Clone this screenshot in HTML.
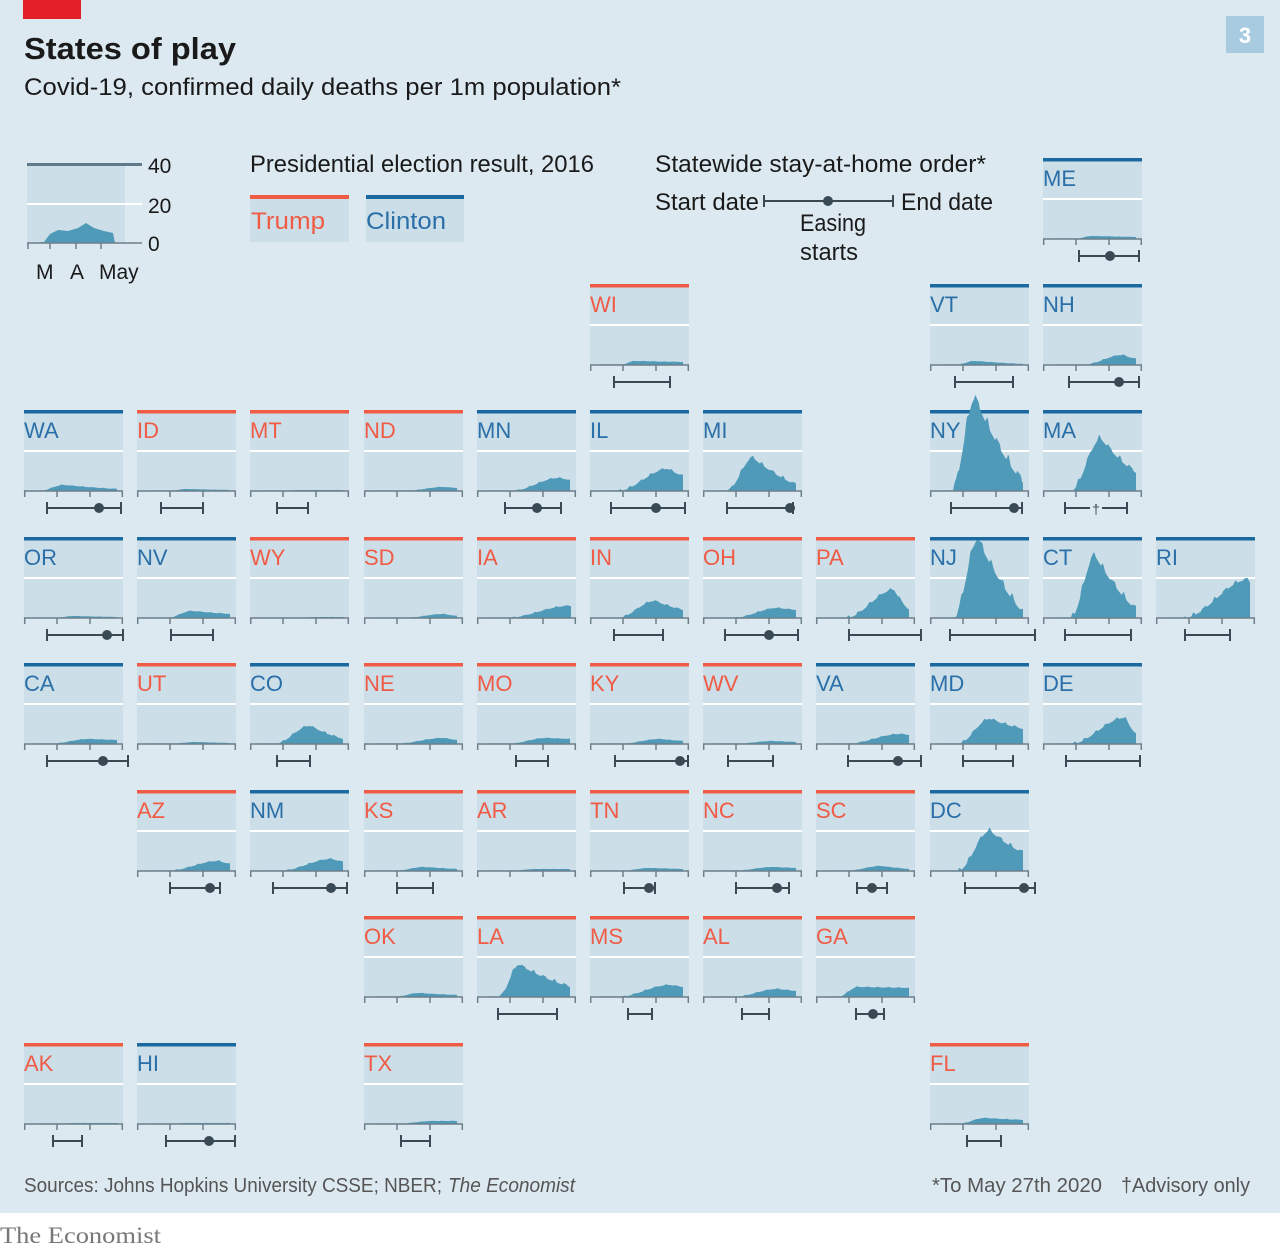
<!DOCTYPE html>
<html><head><meta charset="utf-8">
<style>
html,body{margin:0;padding:0;background:#fff;}
svg{display:block;font-family:"Liberation Sans",sans-serif;}
</style></head>
<body>
<svg id="s" width="1280" height="1250" viewBox="0 0 1280 1250" xmlns="http://www.w3.org/2000/svg">
<rect x="0" y="0" width="1280" height="1213" fill="#dde9f1"/>
<rect x="23" y="0" width="58" height="19" fill="#e3202a"/>
<text x="24" y="59" font-size="31" font-weight="bold" fill="#1a1a1a" textLength="212" lengthAdjust="spacingAndGlyphs">States of play</text>
<text x="24" y="95" font-size="24" fill="#1a1a1a" textLength="597" lengthAdjust="spacingAndGlyphs">Covid-19, confirmed daily deaths per 1m population*</text>
<rect x="1226" y="16" width="38" height="37" fill="#a9cbe0"/>
<text x="1245" y="43" font-size="22" font-weight="bold" fill="#fff" text-anchor="middle">3</text>

<rect x="27" y="165" width="98" height="78" fill="#ccdfe9"/>
<line x1="27" y1="164.5" x2="142" y2="164.5" stroke="#5f7a88" stroke-width="3"/>
<line x1="27" y1="204" x2="142" y2="204" stroke="#fff" stroke-width="2"/>
<path d="M27 243 L44 242 L50 234 L58 230 L68 231 L78 228 L86 223 L94 228 L104 231 L113 233 L115 243 Z" fill="#4f9ab8"/>
<line x1="27" y1="243" x2="142" y2="243" stroke="#6d7f8a" stroke-width="1.5"/>
<g stroke="#6d7f8a" stroke-width="1.5"><line x1="28" y1="243" x2="28" y2="249"/><line x1="50" y1="243" x2="50" y2="249"/><line x1="76" y1="243" x2="76" y2="249"/><line x1="101" y1="243" x2="101" y2="249"/></g>
<g font-size="21" fill="#1a1a1a"><text x="148" y="173">40</text><text x="148" y="213">20</text><text x="148" y="251">0</text>
<text x="36" y="279">M</text><text x="70" y="279">A</text><text x="99" y="279">May</text></g>

<text x="250" y="172" font-size="24" fill="#1a1a1a" textLength="344" lengthAdjust="spacingAndGlyphs">Presidential election result, 2016</text>
<rect x="250" y="196" width="99" height="46" fill="#ccdfe9"/><rect x="250" y="195" width="99" height="4" fill="#f05b45"/>
<text x="251" y="229" font-size="24" fill="#f05b45" textLength="74" lengthAdjust="spacingAndGlyphs">Trump</text>
<rect x="366" y="196" width="98" height="46" fill="#ccdfe9"/><rect x="366" y="195" width="98" height="4" fill="#1a69a0"/>
<text x="366" y="229" font-size="24" fill="#2b6fa8" textLength="80" lengthAdjust="spacingAndGlyphs">Clinton</text>

<text x="655" y="172" font-size="24" fill="#1a1a1a" textLength="331" lengthAdjust="spacingAndGlyphs">Statewide stay-at-home order*</text>
<text x="655" y="210" font-size="24" fill="#1a1a1a" textLength="104" lengthAdjust="spacingAndGlyphs">Start date</text>
<g stroke="#3a4a55" stroke-width="2"><line x1="764" y1="201" x2="893" y2="201"/><line x1="764" y1="195" x2="764" y2="207"/><line x1="893" y1="195" x2="893" y2="207"/></g>
<circle cx="828" cy="201" r="5" fill="#3a4a55"/>
<text x="901" y="210" font-size="24" fill="#1a1a1a" textLength="92" lengthAdjust="spacingAndGlyphs">End date</text>
<text x="800" y="231" font-size="24" fill="#1a1a1a" textLength="66" lengthAdjust="spacingAndGlyphs">Easing</text>
<text x="800" y="260" font-size="24" fill="#1a1a1a" textLength="58" lengthAdjust="spacingAndGlyphs">starts</text>

<g id="tiles"></g>

<text x="24" y="1192" font-size="20" fill="#555" textLength="418" lengthAdjust="spacingAndGlyphs">Sources: Johns Hopkins University CSSE; NBER;</text>
<text x="448" y="1192" font-size="20" fill="#555" font-style="italic" textLength="127" lengthAdjust="spacingAndGlyphs">The Economist</text>
<text x="932" y="1192" font-size="20" fill="#555" textLength="170" lengthAdjust="spacingAndGlyphs">*To May 27th 2020</text>
<text x="1121" y="1192" font-size="20" fill="#555" textLength="129" lengthAdjust="spacingAndGlyphs">†Advisory only</text>
<text x="0" y="1243" font-size="23" fill="#777" font-family="Liberation Serif, serif" textLength="161" lengthAdjust="spacingAndGlyphs">The Economist</text>
</svg>
<script>
var R="#f05b45",D="#1a69a0",RL="#f05b45",DL="#2b6fa8";
var rows=[158,284,410,537,663,790,916,1043];
var S=[
["ME",9,0,"D",30,50,3,2,36,96,67],
["WI",5,1,"R",30,45,4,3,24,80],
["VT",8,1,"D",25,45,4,1,25,83],
["NH",9,1,"D",40,80,10,6,26,96,76],
["WA",0,2,"D",15,40,6,2,23,97,75],
["ID",1,2,"R",30,50,2,1,24,66],
["MT",2,2,"R",30,50,1,1,27,58],
["ND",3,2,"R",40,80,4,3],
["MN",4,2,"D",35,82,13,11,28,84,60],
["IL",5,2,"D",28,78,22,15,21,95,66],
["MI",6,2,"D",24,50,33,6,24,90,87],
["NY",8,2,"D",22,45,92,8,21,92,84],
["MA",9,2,"D",28,58,52,18,22,84,null,1],
["OR",0,3,"D",30,50,2,1,23,99,83],
["NV",1,3,"D",30,55,7,4,34,76],
["WY",2,3,"R",40,70,1,1],
["SD",3,3,"R",40,80,4,2],
["IA",4,3,"R",30,92,12,12],
["IN",5,3,"R",28,65,17,8,24,73],
["OH",6,3,"R",30,75,10,8,22,95,66],
["PA",7,3,"R",30,78,28,8,33,105],
["NJ",8,3,"D",24,48,78,5,20,105],
["CT",9,3,"D",28,52,62,8,22,88],
["RI",10,3,"D",28,92,38,36,29,74],
["CA",0,4,"D",25,65,5,4,23,104,79],
["UT",1,4,"R",30,60,2,1],
["CO",2,4,"D",25,60,18,5,27,60],
["NE",3,4,"R",30,80,6,4],
["MO",4,4,"R",30,70,6,5,39,71],
["KY",5,4,"R",30,70,5,3,25,98,90],
["WV",6,4,"R",30,70,3,2,25,70],
["VA",7,4,"D",30,85,10,9,32,105,82],
["MD",8,4,"D",28,60,25,15,33,83],
["DE",9,4,"D",28,82,26,10,23,97],
["AZ",1,5,"R",30,82,10,7,33,83,73],
["NM",2,5,"D",30,82,12,9,23,97,81],
["KS",3,5,"R",30,60,4,2,33,69],
["AR",4,5,"R",30,60,2,2],
["TN",5,5,"R",30,60,3,2,34,65,59],
["NC",6,5,"R",30,70,4,3,33,86,74],
["SC",7,5,"R",30,65,5,2,41,71,56],
["DC",8,5,"D",28,60,40,18,35,105,94],
["OK",3,6,"R",30,55,4,2],
["LA",4,6,"R",22,42,32,10,21,80],
["MS",5,6,"R",28,80,12,10,38,62],
["AL",6,6,"R",30,75,8,6,39,66],
["GA",7,6,"R",22,42,10,9,40,68,57],
["AK",0,7,"R",30,50,1,1,29,58],
["HI",1,7,"D",30,50,1,1,29,98,72],
["TX",3,7,"R",30,70,3,3,37,66],
["FL",8,7,"R",28,55,6,4,37,71]
];
var h="";
S.forEach(function(s,i){
 var x=Math.round(24+113.2*s[1]), y=rows[s[2]];
 var col=s[3]=="R"?R:D, lc=s[3]=="R"?RL:DL;
 var base=y+81;
 h+='<rect x="'+x+'" y="'+(y+3)+'" width="99" height="78" fill="#ccdfe9"/>';
 h+='<rect x="'+x+'" y="'+y+'" width="99" height="3.5" fill="'+col+'"/>';
 h+='<line x1="'+x+'" y1="'+(y+41)+'" x2="'+(x+99)+'" y2="'+(y+41)+'" stroke="#fff" stroke-width="2"/>';
 var st=s[4],pk=s[5],H=s[6],E=s[7],end=pk>=90?94:93;
 var pts=[];
 for(var t=12;t<=end;t+=1){
  var v;
  if(t<st) v=0.3;
  else if(t<=pk){var u=(t-st)/(pk-st); v=H*(u*u*(3-2*u));}
  else {var u=(t-pk)/(end-pk); v=E+(H-E)*(1-u)*(1-0.3*u);}
  if(t>st) v+=Math.max(0,H*0.07*Math.sin(t*0.6+i)+H*0.02*Math.sin(t*1.5+i*2));
  v=Math.max(v,0.6);
  pts.push((x+t)+" "+(base-v).toFixed(1));
 }
 h+='<path d="M'+(x+12)+' '+base+' L'+pts.join(' L')+' L'+(x+end)+' '+base+' Z" fill="#4f9ab8"/>';
 h+='<line x1="'+x+'" y1="'+base+'" x2="'+(x+99)+'" y2="'+base+'" stroke="#6d7f8a" stroke-width="1.5"/>';
 [0.7,33,66,98.3].forEach(function(o){h+='<line x1="'+(x+o)+'" y1="'+base+'" x2="'+(x+o)+'" y2="'+(base+6)+'" stroke="#6d7f8a" stroke-width="1.5"/>';});
 h+='<text x="'+x+'" y="'+(y+28)+'" font-size="22" fill="'+lc+'">'+s[0]+'</text>';
 if(s[8]!=null){
  var by=y+98,a=x+s[8],b=x+s[9];
  if(s[11]){
   var m=(a+b)/2;
   h+='<g stroke="#3a4a55" stroke-width="2"><line x1="'+a+'" y1="'+by+'" x2="'+(m-6)+'" y2="'+by+'"/><line x1="'+(m+6)+'" y1="'+by+'" x2="'+b+'" y2="'+by+'"/>';
   h+='<line x1="'+a+'" y1="'+(by-6)+'" x2="'+a+'" y2="'+(by+6)+'"/><line x1="'+b+'" y1="'+(by-6)+'" x2="'+b+'" y2="'+(by+6)+'"/></g>';
   h+='<text x="'+m+'" y="'+(by+6)+'" font-size="14" fill="#3a4a55" text-anchor="middle">†</text>';
  } else {
   h+='<g stroke="#3a4a55" stroke-width="2"><line x1="'+a+'" y1="'+by+'" x2="'+b+'" y2="'+by+'"/><line x1="'+a+'" y1="'+(by-6)+'" x2="'+a+'" y2="'+(by+6)+'"/><line x1="'+b+'" y1="'+(by-6)+'" x2="'+b+'" y2="'+(by+6)+'"/></g>';
   if(s[10]!=null) h+='<circle cx="'+(x+s[10])+'" cy="'+by+'" r="5" fill="#3a4a55"/>';
  }
 }
});
document.getElementById("tiles").innerHTML=h;
</script>
</body></html>
